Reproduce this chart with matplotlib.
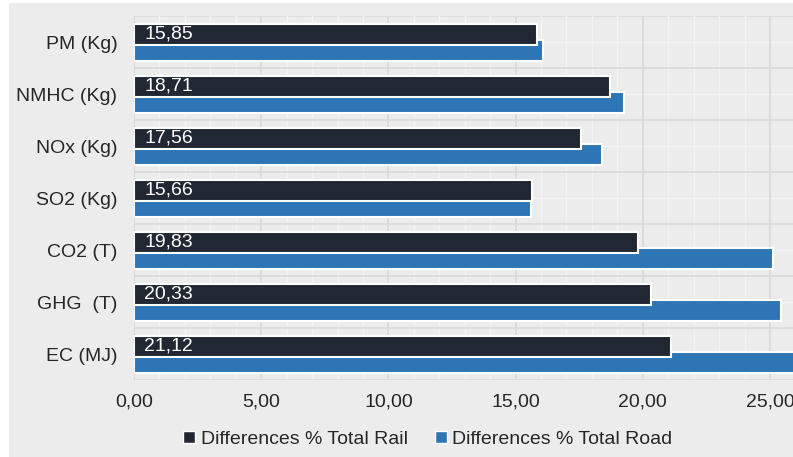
import matplotlib
matplotlib.use("Agg")
import matplotlib.pyplot as plt
from matplotlib.lines import Line2D
from matplotlib.patches import Rectangle
from matplotlib.ticker import FuncFormatter, MultipleLocator
import numpy as np

# data
categories = ["PM (Kg)", "NMHC (Kg)", "NOx (Kg)", "SO2 (Kg)", "CO2 (T)", "GHG  (T)", "EC (MJ)"]
rail = [15.85, 18.71, 17.56, 15.66, 19.83, 20.33, 21.12]
road = [16.08, 19.26, 18.38, 15.60, 25.10, 25.43, 26.10]
series_names = ["Differences % Total Rail", "Differences % Total Road"]

rail_color = "#222833"
road_color = "#2e75b6"
panel = "#ececec"
text_color = "#262626"

plt.rcParams["font.family"] = ["Liberation Sans", "DejaVu Sans"]

fig = plt.figure(figsize=(7.93, 4.57), dpi=100, facecolor="white")
# grey panel behind everything (white strip on left / top like the source)
fig.patches.append(Rectangle((9 / 793, 0), 1, 1 - 3 / 457, transform=fig.transFigure,
                             facecolor=panel, edgecolor="none", zorder=-10))

ax = fig.add_axes([134 / 793, 1 - 380 / 457, 1 - 134 / 793, (380 - 16) / 457])
ax.set_facecolor(panel)

y = np.arange(len(categories))
h = 0.41
ax.barh(y + 0.16, road, height=h, color=road_color, edgecolor="white", linewidth=1.5, zorder=3)
ax.barh(y - 0.15, rail, height=h, color=rail_color, edgecolor="white", linewidth=1.5, zorder=4)

for yi, v in zip(y, rail):
    ax.text(0.4, yi - 0.15, f"{v:.2f}".replace(".", ","), color="white", fontsize=14,
            va="center", ha="left", zorder=5)

ax.set_xlim(0, (793 - 134) / 25.44)
ax.set_ylim(len(categories) - 0.5, -0.5)

ax.xaxis.set_major_locator(MultipleLocator(5))
ax.xaxis.set_minor_locator(MultipleLocator(1))
ax.xaxis.set_major_formatter(FuncFormatter(lambda v, p: f"{v:.2f}".replace(".", ",")))
ax.set_yticks(y)
ax.set_yticklabels(categories)
ax.set_yticks(y + 0.5, minor=True)

ax.grid(True, which="major", axis="x", color="#d9d9d9", linewidth=1.2, zorder=0)
ax.grid(True, which="minor", axis="x", color="#f4f4f4", linewidth=1.0, zorder=0)
ax.grid(True, which="minor", axis="y", color="#d9d9d9", linewidth=1.2, zorder=0)
ax.axhline(-0.5, color="#d9d9d9", linewidth=1.2, zorder=0)
for yi in y:
    ax.axhline(yi, color="#f4f4f4", linewidth=1.0, zorder=0)
ax.axvline(0, color="#d9d9d9", linewidth=1.2, zorder=1)

ax.tick_params(axis="both", which="both", length=0, labelsize=14, labelcolor=text_color)
ax.tick_params(axis="x", pad=10)
ax.tick_params(axis="y", pad=12)
for s in ax.spines.values():
    s.set_visible(False)

handles = [Line2D([], [], marker="s", linestyle="none", markersize=8, markerfacecolor=c,
                  markeredgecolor="white", markeredgewidth=1.0) for c in (rail_color, road_color)]
fig.legend(handles, series_names, loc="center", bbox_to_anchor=(426 / 793, 1 - 439 / 457), ncol=2,
           frameon=False, fontsize=14, handletextpad=0.1, columnspacing=1.2, handlelength=1.0,
           labelcolor=text_color)

fig.savefig("out.png", dpi=100, facecolor=fig.get_facecolor())
